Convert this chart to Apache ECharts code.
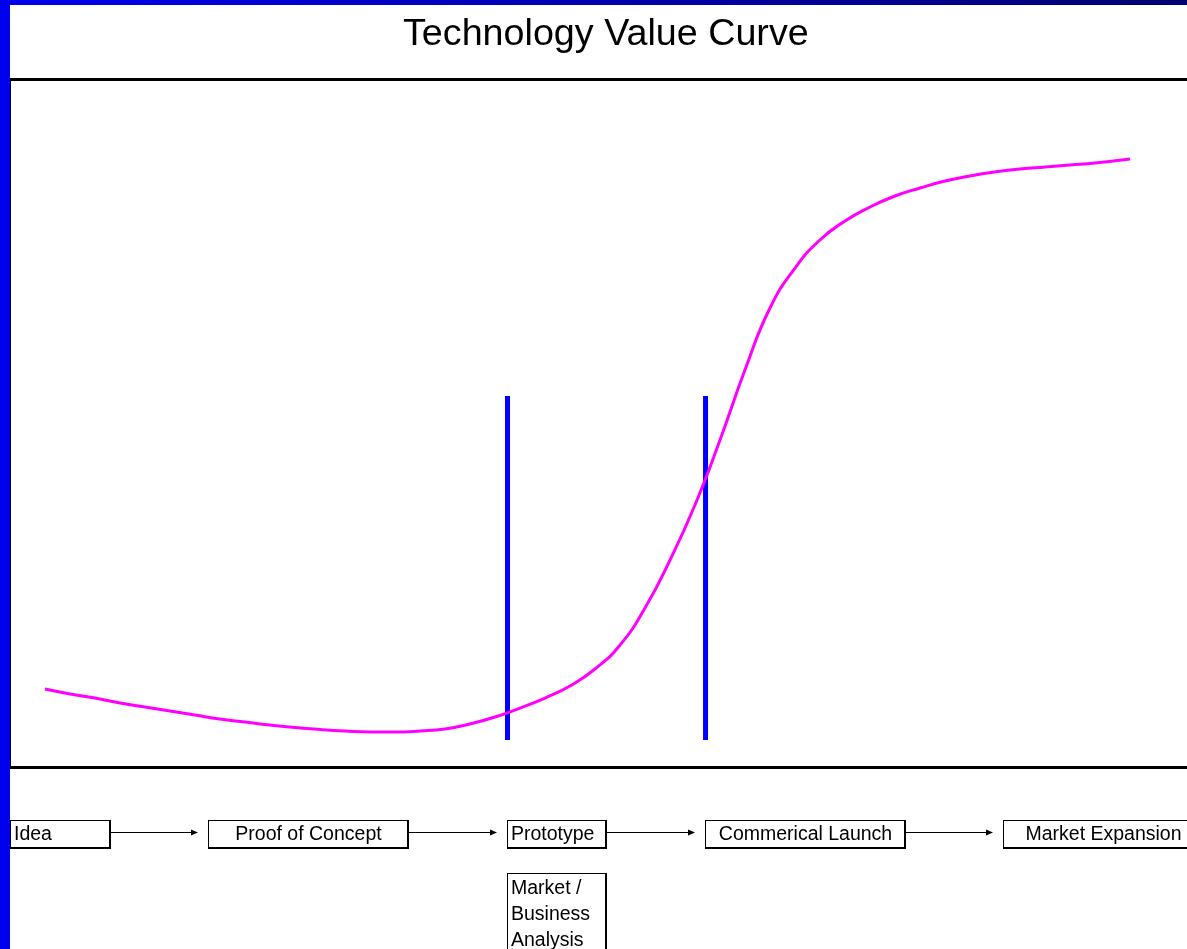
<!DOCTYPE html>
<html>
<head>
<meta charset="utf-8">
<script src="https://cdn.jsdelivr.net/npm/echarts@6/dist/echarts.min.js"></script>
<style>
html,body{margin:0;padding:0;background:#fff;}
#chart{width:1187px;height:949px;}
</style>
</head>
<body>
<div id="chart"></div>
<script>
// ---- data ----
const titleText = 'Technology Value Curve';
// value curve: [time, value] on a 0-100 scale
const curveX = [2.89, 5.02, 7.14, 9.27, 11.39, 13.52, 15.65, 17.77, 19.90, 22.02, 24.15, 26.28, 28.40, 30.53, 32.65, 34.78, 36.90, 39.03, 41.16, 43.28, 45.41, 47.53, 49.66, 51.79, 53.91, 56.04, 58.16, 60.29, 62.41, 64.54, 66.67, 68.79, 70.92, 73.04, 75.17, 77.30, 79.42, 81.55, 83.67, 85.80, 87.93, 90.05, 92.18, 95.15];
const curveY = [11.22, 10.50, 9.91, 9.18, 8.60, 8.02, 7.43, 6.85, 6.41, 5.98, 5.61, 5.32, 5.10, 4.96, 4.96, 5.10, 5.39, 6.12, 7.14, 8.45, 9.91, 11.66, 14.14, 17.64, 23.03, 30.03, 38.05, 47.52, 57.73, 66.76, 72.59, 76.68, 79.45, 81.49, 83.09, 84.26, 85.28, 86.01, 86.59, 87.03, 87.32, 87.61, 87.90, 88.48];
// milestone markers (time positions) and their vertical extent
const milestoneX = [42.22, 59.06];
const milestoneRange = [3.79, 53.94];
// stages
const stages = ['Idea', 'Proof of Concept', 'Prototype', 'Commerical Launch', 'Market Expansion'];
const subStage = ['Market /', 'Business', 'Analysis'];

// ---- chart ----
const chart = echarts.init(document.getElementById('chart'));
const FONT = 'Liberation Sans, Arial, sans-serif';

const series = [{
  type: 'line',
  data: curveX.map((x, i) => [x, curveY[i]]),
  smooth: 0.5,
  showSymbol: false,
  lineStyle: { color: '#ff00ff', width: 3 },
  z: 3,
  silent: true
}];
milestoneX.forEach(x => {
  series.push({
    type: 'line',
    data: [[x, milestoneRange[0]], [x, milestoneRange[1]]],
    showSymbol: false,
    lineStyle: { color: '#0000ff', width: 5, cap: 'butt' },
    z: 2,
    silent: true
  });
});

// graphic decorations: frame, boxes, arrows
const g = [];
g.push({ type: 'rect', shape: { x: 0, y: 0, width: 10, height: 949 }, style: { fill: '#0000ee' }, z: 10 });
g.push({ type: 'rect', shape: { x: 0, y: 0, width: 1187, height: 5 },
  style: { fill: new echarts.graphic.LinearGradient(0, 0, 1, 0, [{ offset: 0, color: '#0000ee' }, { offset: 1, color: '#000070' }]) }, z: 10 });
g.push({ type: 'rect', shape: { x: 10, y: 78, width: 1177, height: 3 }, style: { fill: '#000' }, z: 10 });
g.push({ type: 'rect', shape: { x: 10, y: 766, width: 1177, height: 3 }, style: { fill: '#000' }, z: 10 });
g.push({ type: 'rect', shape: { x: 10, y: 78, width: 1, height: 691 }, style: { fill: '#000' }, z: 10 });

function box(x, y, w, h, lines, align, ty) {
  g.push({ type: 'rect', shape: { x: x, y: y, width: w, height: h }, style: { fill: '#000' }, z: 11 });
  g.push({ type: 'rect', shape: { x: x + 1, y: y + 1, width: w - 3, height: h - 3 }, style: { fill: '#fff' }, z: 12 });
  lines.forEach((t, i) => {
    g.push({ type: 'text', x: align === 'left' ? x + 4 : x + w / 2, y: y + ty + i * 26, z: 13,
      style: { text: t, font: '19.5px ' + FONT, fill: '#000', textAlign: align === 'left' ? 'left' : 'center', textVerticalAlign: 'middle' } });
  });
}
function arrow(x1, x2, y) {
  g.push({ type: 'line', shape: { x1: x1, y1: y, x2: x2 - 5, y2: y }, style: { stroke: '#000', lineWidth: 1 }, z: 11 });
  g.push({ type: 'polygon', shape: { points: [[x2 - 7, y - 3], [x2, y], [x2 - 7, y + 3]] }, style: { fill: '#000' }, z: 11 });
}
const boxLeft = [10, 208, 507, 705, 1003];
const boxWidth = [101, 201, 100, 201, 201];
const boxAlign = ['left', 'center', 'left', 'center', 'center'];
stages.forEach((s, i) => box(boxLeft[i], 820, boxWidth[i], 29, [s], boxAlign[i], 15));
for (let i = 0; i < stages.length - 1; i++) {
  arrow(boxLeft[i] + boxWidth[i], boxLeft[i + 1] - 10, 832.5);
}
box(507, 873, 100, 90, subStage, 'left', 16);

chart.setOption({
  animation: false,
  backgroundColor: '#fff',
  title: {
    text: titleText,
    left: 398,
    top: 11,
    textStyle: { fontFamily: FONT, fontSize: 37.7, fontWeight: 'normal', color: '#000' }
  },
  grid: { left: 11, top: 80, width: 1176, height: 686, show: false },
  xAxis: { type: 'value', min: 0, max: 100, show: false },
  yAxis: { type: 'value', min: 0, max: 100, show: false },
  series: series,
  graphic: g
});
</script>
</body>
</html>
